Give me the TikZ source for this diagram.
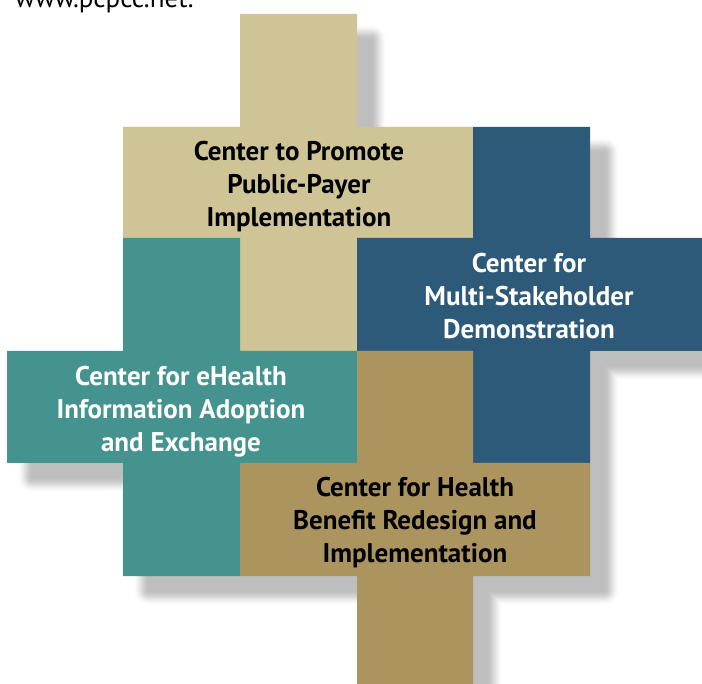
\documentclass[tikz,border=0pt]{standalone}
\usepackage{fontspec}
\setmainfont{PT Sans}

\definecolor{paletan}{RGB}{207,196,150}
\definecolor{deepblue}{RGB}{44,90,120}
\definecolor{seateal}{RGB}{68,147,142}
\definecolor{khaki}{RGB}{171,148,94}
\definecolor{shadowgray}{RGB}{190,190,190}

\tikzset{
  piece/.style={draw=none},
  label/.style={align=center, font=\fontsize{27}{33}\selectfont\bfseries, inner sep=0pt},
  darklabel/.style={label, text=black},
  lightlabel/.style={label, text=white},
  % core of the drop shadow: the outline of all crosses, moved down-right and pulled in
  shadowcore/.style={insert path={(266,40) -- (371,40) -- (371,153) -- (604,153) -- (604,264)
      -- (734,264) -- (734,365) -- (604,365) -- (604,590) -- (487,590) -- (487,714)
      -- (383,714) -- (383,590) -- (149,590) -- (149,477) -- (33,477) -- (33,377)
      -- (149,377) -- (149,153) -- (266,153) -- cycle}}
}

\begin{document}
\begin{tikzpicture}[x=1pt, y=-1pt]
  \useasboundingbox (0,0) rectangle (702,684);
  \clip (0,0) rectangle (702,684);
  \fill[white] (0,0) rectangle (702,684);

  % web address at the top edge
  \node[anchor=base west, inner sep=0pt, font=\fontsize{27}{32}\selectfont] (url) at (15,8) {www.pcpcc.net.};

  % soft shadow: rings from light to dark, then a solid core
  \foreach \k in {0,...,15} {
    \pgfmathsetmacro{\wd}{2*16*(1-\k/16)}
    \pgfmathsetmacro{\tt}{(\k+0.5)/16}
    \pgfmathsetmacro{\pc}{100*\tt*\tt*(3-2*\tt)}
    \draw[line width=\wd pt, draw=shadowgray!\pc!white, line join=round, shadowcore];
  }
  \fill[shadowgray, shadowcore];

  % tan cross
  \fill[paletan, piece] (240,14) -- (357,14) -- (357,127) -- (473,127) -- (473,238) -- (357,238)
    -- (357,351) -- (240,351) -- (240,238) -- (123,238) -- (123,127) -- (240,127) -- cycle;
  % blue cross
  \fill[deepblue, piece] (473,127) -- (590,127) -- (590,238) -- (720,238) -- (720,351) -- (590,351)
    -- (590,463) -- (473,463) -- (473,351) -- (357,351) -- (357,238) -- (473,238) -- cycle;
  % teal cross
  \fill[seateal, piece] (123,238) -- (240,238) -- (240,351) -- (357,351) -- (357,463) -- (240,463)
    -- (240,576) -- (123,576) -- (123,463) -- (7,463) -- (7,351) -- (123,351) -- cycle;
  % khaki cross
  \fill[khaki, piece] (357,351) -- (473,351) -- (473,463) -- (590,463) -- (590,576) -- (473,576)
    -- (473,700) -- (357,700) -- (357,576) -- (240,576) -- (240,463) -- (357,463) -- cycle;

  % labels
  \node[darklabel] (promote) at (299,187) {Center to Promote\\Public-Payer\\Implementation};
  \node[lightlabel] (multi) at (529,296) {Center for\\Multi-Stakeholder\\Demonstration};
  \node[lightlabel] (ehealth) at (181,412) {Center for eHealth\\Information Adoption\\and Exchange};
  \node[darklabel] (benefit) at (415,523) {Center for Health\\Benefit Redesign and\\Implementation};
\end{tikzpicture}
\end{document}
